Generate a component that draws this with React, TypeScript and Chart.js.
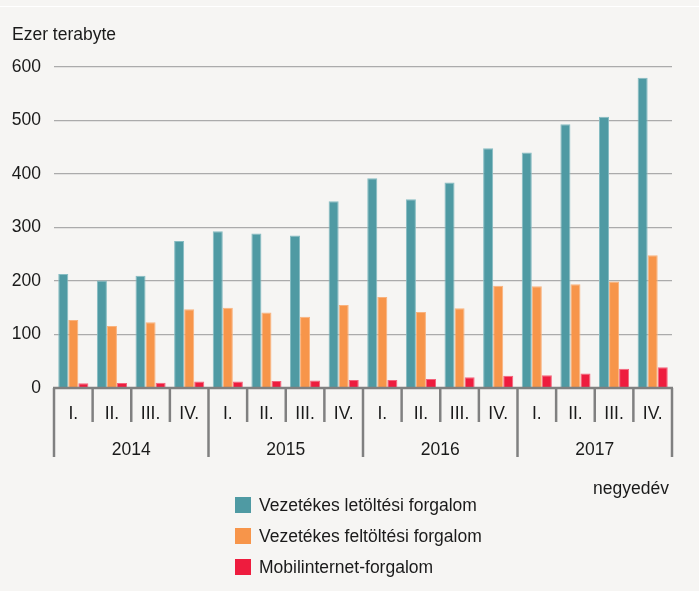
import React, { useEffect, useRef } from 'react';
import { Chart, registerables } from 'chart.js';

Chart.register(...registerables);

const quarters = ['I.', 'II.', 'III.', 'IV.'];
const years = ['2014', '2015', '2016', '2017'];
const categories = ['2014 I.', '2014 II.', '2014 III.', '2014 IV.', '2015 I.', '2015 II.', '2015 III.', '2015 IV.', '2016 I.', '2016 II.', '2016 III.', '2016 IV.', '2017 I.', '2017 II.', '2017 III.', '2017 IV.'];
const download = [213, 201, 210, 275, 293, 289, 285, 349, 392, 353, 384, 448, 440, 493, 507, 580];
const upload = [127, 116, 123, 147, 150, 141, 133, 155, 170, 142, 149, 191, 190, 194, 199, 248];
const mobile = [9, 9.5, 10, 12, 12, 13, 14, 15, 15, 17, 20, 23, 24, 27, 36, 39];
const seriesNames = ['Vezetékes letöltési forgalom', 'Vezetékes feltöltési forgalom', 'Mobilinternet-forgalom'];
const seriesColors = ['#4f9aa3', '#f7954a', '#ee1c3e'];
const seriesBorders = ['#86bcc2', '#f9b27d', '#f4637b'];
const yTitle = 'Ezer terabyte';
const xTitle = 'negyedév';
const yMin = 0;
const yMax = 600;
const yStep = 100;

const FONT = '"Liberation Sans", Arial, sans-serif';
const TEXT = '#1a1a1a';

const axisPlugin = {
  id: 'quarterAxis',
  afterDatasetsDraw(chart: any) {
    const { ctx, chartArea, scales } = chart;
    const xs = scales.x;
    const y0 = scales.y.getPixelForValue(0);
    const p0 = xs.getPixelForValue(0);
    const step = xs.getPixelForValue(1) - p0;
    const n = categories.length;
    ctx.save();
    ctx.strokeStyle = '#808080';
    ctx.lineWidth = 2.5;
    for (let i = 0; i <= n; i++) {
      const x = p0 + (i - 0.5) * step;
      const len = i % quarters.length === 0 ? 69 : 34;
      ctx.beginPath();
      ctx.moveTo(x, y0);
      ctx.lineTo(x, y0 + len);
      ctx.stroke();
    }
    ctx.beginPath();
    ctx.moveTo(chartArea.left - 1, y0);
    ctx.lineTo(chartArea.right + 1, y0);
    ctx.stroke();

    ctx.fillStyle = TEXT;
    ctx.font = `17.5px ${FONT}`;
    ctx.textAlign = 'center';
    ctx.textBaseline = 'alphabetic';
    categories.forEach((_, i) => {
      ctx.fillText(quarters[i % quarters.length], xs.getPixelForValue(i), y0 + 31);
    });
    years.forEach((yr, k) => {
      const a = xs.getPixelForValue(k * quarters.length);
      const b = xs.getPixelForValue(k * quarters.length + quarters.length - 1);
      ctx.fillText(yr, (a + b) / 2, y0 + 67);
    });

    ctx.textAlign = 'left';
    ctx.fillText(yTitle, 12, 40);
    ctx.textAlign = 'right';
    ctx.fillText(xTitle, 669, 494);
    ctx.restore();
  },
};

export default function App() {
  const ref = useRef<HTMLCanvasElement | null>(null);

  useEffect(() => {
    if (!ref.current) return;
    const chart = new Chart(ref.current, {
      type: 'bar',
      data: {
        labels: categories,
        datasets: [download, upload, mobile].map((d, i) => ({
          label: seriesNames[i],
          data: d,
          backgroundColor: seriesColors[i],
          borderColor: seriesBorders[i],
          borderWidth: 1,
          categoryPercentage: 0.78,
          barPercentage: 1.0,
        })),
      },
      options: {
        responsive: false,
        animation: false,
        devicePixelRatio: 1,
        layout: { padding: { left: 12, right: 27, top: 67, bottom: 203 } },
        plugins: {
          legend: { display: false },
          tooltip: { enabled: false },
          title: { display: false },
        },
        scales: {
          x: {
            display: false,
          },
          y: {
            min: yMin,
            max: yMax,
            afterFit: (s: any) => {
              s.width = 42;
            },
            border: { display: false },
            grid: {
              color: '#ababab',
              lineWidth: 1.2,
              drawTicks: false,
            },
            ticks: {
              stepSize: yStep,
              padding: 13,
              color: TEXT,
              font: { family: FONT, size: 17.5 },
            },
          },
        },
      },
      plugins: [axisPlugin],
    });
    return () => chart.destroy();
  }, []);

  return (
    <div
      style={{
        position: 'absolute',
        left: 0,
        top: 0,
        width: 699,
        height: 591,
        background: '#f6f5f3',
        overflow: 'hidden',
        fontFamily: FONT,
      }}
    >
      <div style={{ position: 'absolute', left: 0, top: 6, width: 699, height: 1, background: '#ffffff' }} />
      <canvas ref={ref} width={699} height={591} style={{ position: 'absolute', left: 0, top: 0, width: 699, height: 591 }} />
      {seriesNames.map((name, i) => (
        <div
          key={name}
          style={{
            position: 'absolute',
            left: 235,
            top: 495.5 + i * 31,
            height: 18,
            display: 'flex',
            alignItems: 'center',
            whiteSpace: 'nowrap',
          }}
        >
          <span style={{ display: 'inline-block', width: 16, height: 16, background: seriesColors[i], marginRight: 8 }} />
          <span style={{ fontSize: 17.5, lineHeight: '18px', color: TEXT }}>{name}</span>
        </div>
      ))}
    </div>
  );
}
